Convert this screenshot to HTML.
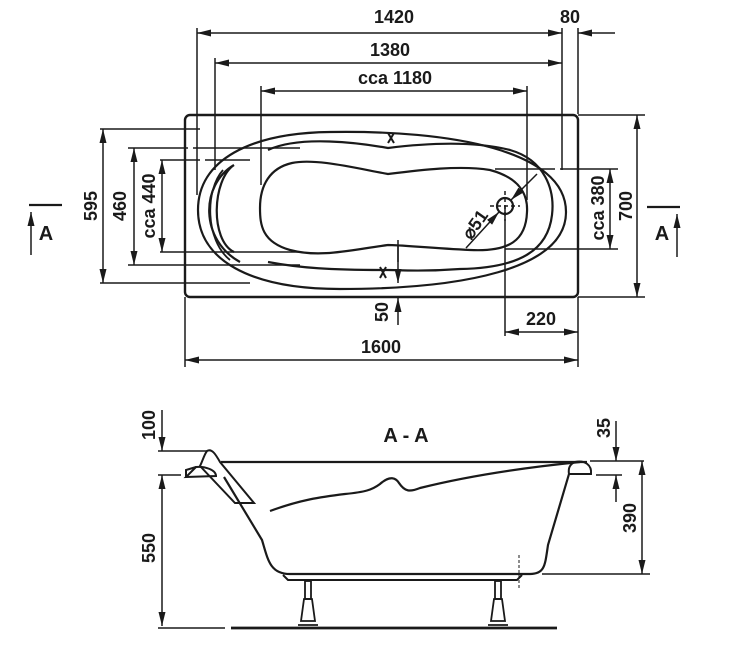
<!DOCTYPE html>
<html><head><meta charset="utf-8"><style>
html,body{margin:0;padding:0;background:#fff;}
svg{display:block;}
text{font-family:"Liberation Sans",Arial,sans-serif;font-weight:bold;font-size:18px;fill:#1a1a1a;}
</style></head><body>
<svg width="733" height="650" viewBox="0 0 733 650" xmlns="http://www.w3.org/2000/svg">
<defs>
<marker id="a" viewBox="0 0 14 7" refX="14" refY="3.5" markerWidth="14" markerHeight="7" orient="auto-start-reverse" markerUnits="userSpaceOnUse">
<path d="M0,0 L14,3.5 L0,7 z" fill="#1a1a1a"/></marker>
</defs>
<g stroke="#1a1a1a" fill="none" stroke-width="1.5">
<line x1="197" y1="28" x2="197" y2="195"/>
<line x1="215" y1="58" x2="215" y2="170"/>
<line x1="261" y1="86" x2="261" y2="185"/>
<line x1="527" y1="86" x2="527" y2="200"/>
<line x1="562" y1="28" x2="562" y2="170"/>
<line x1="578" y1="28" x2="578" y2="114"/>
<line x1="197" y1="33" x2="562" y2="33" marker-start="url(#a)" marker-end="url(#a)"/>
<line x1="596" y1="33" x2="615" y2="33"/>
<line x1="596" y1="33" x2="578" y2="33" marker-end="url(#a)"/>
<line x1="215" y1="63" x2="562" y2="63" marker-start="url(#a)" marker-end="url(#a)"/>
<line x1="261" y1="91" x2="527" y2="91" marker-start="url(#a)" marker-end="url(#a)"/>
<rect x="185" y="115" width="393" height="182" rx="5" stroke-width="2.4"/>
<line x1="100" y1="129" x2="200" y2="129"/>
<line x1="100" y1="283" x2="250" y2="283"/>
<line x1="103" y1="129" x2="103" y2="283" marker-start="url(#a)" marker-end="url(#a)"/>
<line x1="128" y1="148" x2="300" y2="148" stroke-dasharray="60 5 200"/>
<line x1="128" y1="265" x2="300" y2="265"/>
<line x1="134" y1="148" x2="134" y2="265" marker-start="url(#a)" marker-end="url(#a)"/>
<line x1="160" y1="160" x2="250" y2="160" stroke-dasharray="40 5 200"/>
<line x1="160" y1="252" x2="300" y2="252"/>
<line x1="162" y1="160" x2="162" y2="252" marker-start="url(#a)" marker-end="url(#a)"/>
<line x1="29" y1="205" x2="62" y2="205" stroke-width="2.2"/>
<line x1="31" y1="255" x2="31" y2="212" marker-end="url(#a)"/>
<line x1="578" y1="115" x2="645" y2="115"/>
<line x1="578" y1="297" x2="645" y2="297"/>
<line x1="637" y1="115" x2="637" y2="297" marker-start="url(#a)" marker-end="url(#a)"/>
<line x1="495" y1="169" x2="618" y2="169" stroke-dasharray="60 5 100"/>
<line x1="505" y1="249" x2="618" y2="249"/>
<line x1="610" y1="169" x2="610" y2="249" marker-start="url(#a)" marker-end="url(#a)"/>
<line x1="647" y1="207" x2="680" y2="207" stroke-width="2.2"/>
<line x1="677" y1="257" x2="677" y2="214" marker-end="url(#a)"/>
<path d="M330,132 C450,130 566,150 566,212 C566,270 460,289 340,289 C250,289 198,260 198,210 C198,160 250,133 330,132 Z" stroke-width="2.2"/>
<path d="M268,150 C300,135 360,143 388,148 C420,144 470,140 510,150 C545,160 555,190 552,215 C548,250 520,268 460,269 C420,272 400,270 388,270 C330,270 300,268 268,262" stroke-width="2.2"/>
<path d="M234,165 C212,180 210,240 234,252 M234,165 C200,185 200,240 240,262" stroke-width="2.2"/>
<path d="M223,170 C205,190 205,240 230,260" stroke-width="1.8"/>
<path d="M292,163 C315,158 355,168 388,174 C420,170 460,165 490,170 C520,178 528,195 527,212 C526,240 510,252 470,250 C430,248 400,245 388,245 C350,250 320,258 290,250 C262,242 260,225 260,208 C260,185 270,168 292,163 Z" stroke-width="2.2"/>
<line x1="388" y1="133" x2="394" y2="143" stroke-width="2"/><line x1="394" y1="133" x2="388" y2="143" stroke-width="2"/>
<line x1="380" y1="267" x2="386" y2="278" stroke-width="2"/><line x1="386" y1="267" x2="380" y2="278" stroke-width="2"/>
<circle cx="505" cy="206" r="8" stroke-width="2.2"/>
<line x1="490" y1="206" x2="520" y2="206" stroke-dasharray="4 3"/>
<line x1="505" y1="191" x2="505" y2="221" stroke-dasharray="4 3"/>
<line x1="466" y1="248" x2="499" y2="212" marker-end="url(#a)"/>
<line x1="537" y1="174" x2="511" y2="200" marker-end="url(#a)"/>
<line x1="398" y1="240" x2="398" y2="262"/>
<line x1="398" y1="245" x2="398" y2="283" marker-end="url(#a)"/>
<line x1="398" y1="325" x2="398" y2="298" marker-end="url(#a)"/>
<line x1="505" y1="206" x2="505" y2="336"/>
<line x1="578" y1="297" x2="578" y2="367"/>
<line x1="185" y1="297" x2="185" y2="367"/>
<line x1="505" y1="332" x2="578" y2="332" marker-start="url(#a)" marker-end="url(#a)"/>
<line x1="185" y1="360" x2="578" y2="360" marker-start="url(#a)" marker-end="url(#a)"/>

<line x1="221" y1="462" x2="587" y2="462" stroke-width="2.2"/>
<path d="M186,477 L216,476 C216,470 205,466 196,467 Z" stroke-width="2"/>
<path d="M186,477 L186,470 L196,467" stroke-width="2"/>
<path d="M207,451 C212,448 216,455 220,462 L254,503 L235,503 L200,466 C203,460 204,455 207,451 Z" stroke-width="2"/>
<path d="M224,477 L262,540 C268,560 270,574 290,574 L530,574 C545,574 545,565 548,545 L569,474" stroke-width="2.2"/>
<path d="M575,462 C585,460 592,465 591,474 L569,474 C568,468 570,464 575,462 Z" stroke-width="2"/>
<path d="M270,511 C300,500 320,497 345,494 C365,492 372,490 380,484 C390,475 396,478 399,483 C405,492 410,492 420,488 C480,473 540,466 580,462" stroke-width="2.2"/>
<path d="M283,575 L288,580 L517,580 L522,575" stroke-width="2"/>
<line x1="519" y1="555" x2="519" y2="590" stroke-dasharray="3 2" stroke-width="1"/>
<g stroke-width="1.8">
<rect x="305" y="581" width="6" height="18"/><path d="M304,599 L312,599 L315,621 L301,621 Z"/><line x1="298" y1="625" x2="318" y2="625"/>
<rect x="495" y="581" width="6" height="18"/><path d="M494,599 L502,599 L505,621 L491,621 Z"/><line x1="488" y1="625" x2="508" y2="625"/>
</g>
<line x1="231" y1="628" x2="557" y2="628" stroke-width="2.8"/>
<line x1="158" y1="628" x2="225" y2="628"/>
<line x1="158" y1="451" x2="207" y2="451"/>
<line x1="158" y1="475" x2="181" y2="475"/>
<line x1="162" y1="410" x2="162" y2="451" marker-end="url(#a)"/>
<line x1="162" y1="475" x2="162" y2="626" marker-start="url(#a)" marker-end="url(#a)"/>
<line x1="590" y1="461" x2="644" y2="461"/>
<line x1="596" y1="475" x2="622" y2="475"/>
<line x1="616" y1="421" x2="616" y2="461" marker-end="url(#a)"/>
<line x1="616" y1="502" x2="616" y2="475" marker-end="url(#a)"/>
<line x1="542" y1="574" x2="650" y2="574"/>
<line x1="642" y1="461" x2="642" y2="574" marker-start="url(#a)" marker-end="url(#a)"/>
</g>
<g>
<text x="394" y="23" text-anchor="middle">1420</text>
<text x="570" y="23" text-anchor="middle">80</text>
<text x="390" y="56" text-anchor="middle">1380</text>
<text x="395" y="84" text-anchor="middle">cca 1180</text>
<text x="381" y="353" text-anchor="middle">1600</text>
<text x="541" y="325" text-anchor="middle">220</text>
<text transform="translate(388,312) rotate(-90)" text-anchor="middle">50</text>
<text transform="translate(97,206) rotate(-90)" text-anchor="middle">595</text>
<text transform="translate(126,206) rotate(-90)" text-anchor="middle">460</text>
<text transform="translate(155,206) rotate(-90)" text-anchor="middle">cca 440</text>
<text transform="translate(604,208) rotate(-90)" text-anchor="middle">cca 380</text>
<text transform="translate(632,206) rotate(-90)" text-anchor="middle">700</text>
<text transform="translate(480,228) rotate(-55)" text-anchor="middle">⌀51</text>
<text x="46" y="240" text-anchor="middle" style="font-size:20px">A</text>
<text x="662" y="240" text-anchor="middle" style="font-size:20px">A</text>
<text x="406" y="442" text-anchor="middle" style="font-size:20px">A - A</text>
<text transform="translate(155,425) rotate(-90)" text-anchor="middle">100</text>
<text transform="translate(155,548) rotate(-90)" text-anchor="middle">550</text>
<text transform="translate(610,428) rotate(-90)" text-anchor="middle">35</text>
<text transform="translate(636,518) rotate(-90)" text-anchor="middle">390</text>
</g>
</svg>
</body></html>
